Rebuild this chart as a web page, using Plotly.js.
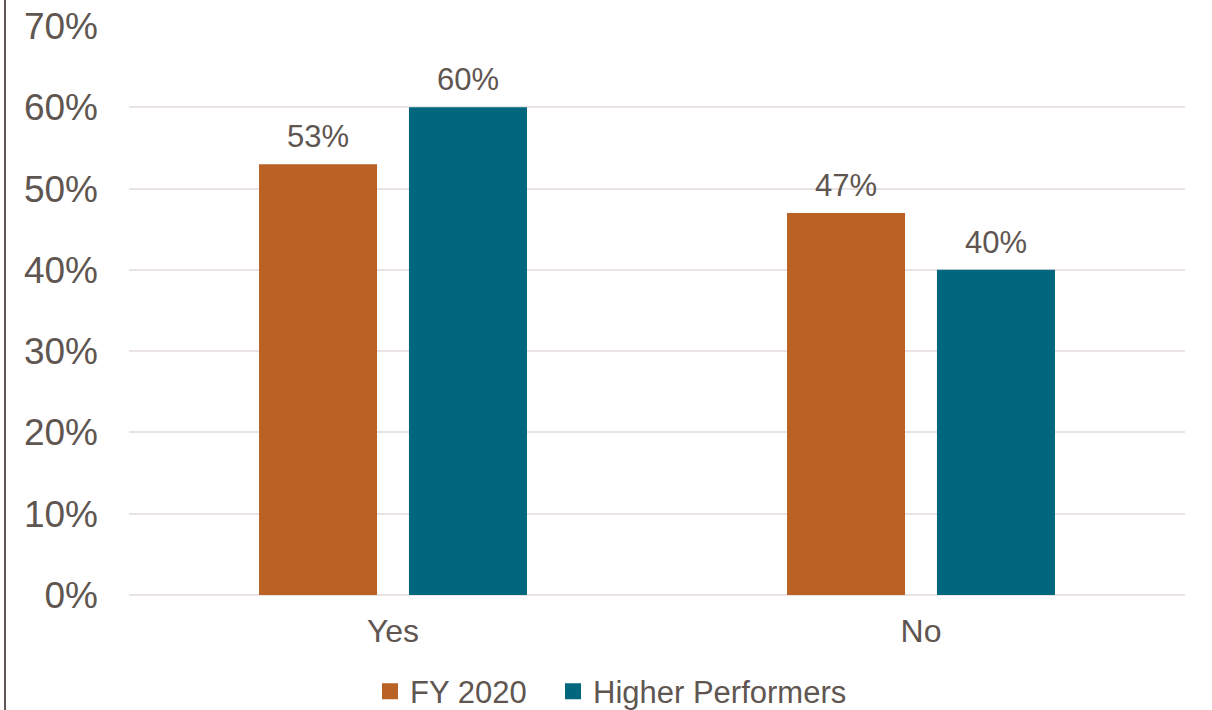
<!DOCTYPE html>
<html>
<head>
<meta charset="utf-8">
<script src="https://cdn.plot.ly/plotly-3.0.1.min.js"></script>
<style>
  html, body { margin: 0; padding: 0; background: #fff; }
  #chart { width: 1212px; height: 710px; }
</style>
</head>
<body>
<div id="chart"></div>
<script>
// Share of respondents answering Yes / No
const categories = ['Yes', 'No'];
const seriesNames = ['FY 2020', 'Higher Performers'];
const fy2020 = [0.53, 0.47];
const higherPerformers = [0.60, 0.40];
const yTicks = [0, 0.1, 0.2, 0.3, 0.4, 0.5, 0.6, 0.7];

const colors = ['#BA6125', '#00677F'];
const textColor = '#5F5651';
const fontFamily = 'Arial, "Liberation Sans", sans-serif';

const seriesValues = [fy2020, higherPerformers];
const legendIds = ['legend', 'legend2'];

const traces = seriesValues.map((vals, i) => ({
  type: 'bar',
  name: seriesNames[i],
  x: categories,
  y: vals,
  marker: { color: colors[i] },
  showlegend: false,
  hoverinfo: 'skip'
}));

// legend entries with larger square swatches, one legend box per series
seriesNames.forEach((name, i) => {
  traces.push({
    type: 'scatter',
    mode: 'markers',
    name: name,
    x: [null],
    y: [null],
    marker: { symbol: 'square', size: 16, color: colors[i] },
    showlegend: true,
    legend: legendIds[i],
    hoverinfo: 'skip'
  });
});

// value labels above each bar, offset left/right to sit over its bar in the group
const groupOffset = [-75, 75];
const annotations = [];
seriesValues.forEach((vals, i) => {
  vals.forEach((v, j) => {
    annotations.push({
      x: categories[j],
      y: v,
      xref: 'x',
      yref: 'y',
      text: Math.round(v * 100) + '%',
      showarrow: false,
      xshift: groupOffset[i],
      yanchor: 'bottom',
      yshift: 8,
      font: { family: fontFamily, size: 31, color: textColor }
    });
  });
});

function legendBox(xLeft) {
  return {
    orientation: 'h',
    xref: 'container',
    yref: 'container',
    x: xLeft,
    xanchor: 'left',
    y: 0.026,
    yanchor: 'middle',
    font: { family: fontFamily, size: 31, color: textColor },
    itemclick: false,
    itemwidth: 30
  };
}

const layout = {
  width: 1212,
  height: 710,
  paper_bgcolor: '#ffffff',
  plot_bgcolor: '#ffffff',
  margin: { l: 129, r: 27, t: 26, b: 115 },
  barmode: 'group',
  bargap: 0.432,
  bargroupgap: 0.213,
  showlegend: true,
  legend: legendBox(370 / 1212),
  legend2: legendBox(553 / 1212),
  xaxis: {
    type: 'category',
    automargin: false,
    showgrid: false,
    zeroline: false,
    showline: false,
    ticks: '',
    ticklabelstandoff: 14,
    tickfont: { family: fontFamily, size: 32, color: textColor }
  },
  yaxis: {
    range: [0, 0.7],
    automargin: false,
    tickvals: yTicks,
    tickformat: '.0%',
    showgrid: true,
    gridcolor: '#E9E3E3',
    gridwidth: 2,
    zeroline: true,
    zerolinecolor: '#E9E3E3',
    zerolinewidth: 2,
    showline: false,
    ticks: '',
    ticklabelstandoff: 30,
    tickfont: { family: fontFamily, size: 37, color: textColor }
  },
  annotations: annotations,
  shapes: [{
    type: 'line',
    xref: 'paper',
    yref: 'paper',
    x0: -0.1174, x1: -0.1174,
    y0: -0.3, y1: 1.1,
    line: { color: '#5F5651', width: 2 }
  }]
};

Plotly.newPlot('chart', traces, layout, { displayModeBar: false, staticPlot: true });
</script>
</body>
</html>
